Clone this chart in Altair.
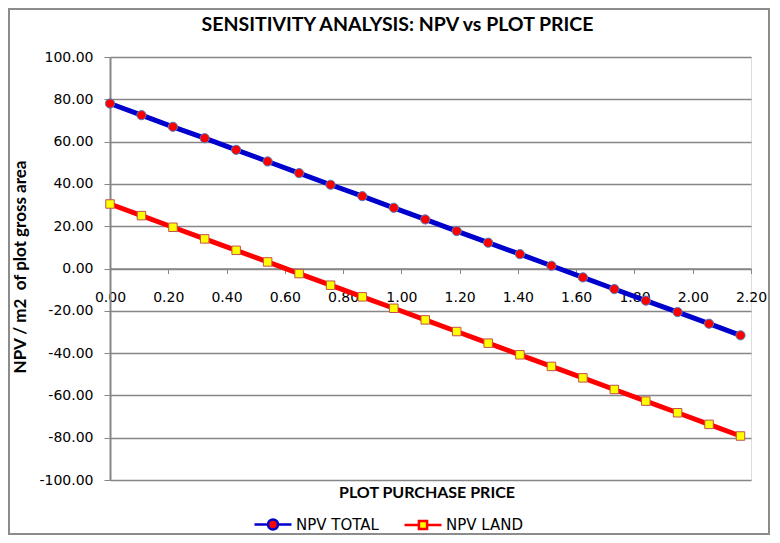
import altair as alt
import pandas as pd

series_names = ["NPV TOTAL", "NPV LAND"]
price = [0.000, 0.108, 0.216, 0.325, 0.433, 0.541, 0.649, 0.757, 0.866, 0.974, 1.082,
         1.190, 1.298, 1.407, 1.515, 1.623, 1.731, 1.839, 1.948, 2.056, 2.164]
npv_total = [78.0, 72.5, 67.0, 61.6, 56.1, 50.6, 45.1, 39.6, 34.2, 28.7, 23.2,
             17.7, 12.2, 6.8, 1.3, -4.2, -9.7, -15.2, -20.6, -26.1, -31.6]
npv_land = [30.5, 25.0, 19.5, 14.0, 8.6, 3.1, -2.4, -7.9, -13.4, -18.8, -24.3,
            -29.8, -35.3, -40.8, -46.3, -51.7, -57.2, -62.7, -68.2, -73.7, -79.2]
x_ticks = [0.0, 0.2, 0.4, 0.6, 0.8, 1.0, 1.2, 1.4, 1.6, 1.8, 2.0, 2.2]
y_ticks = [-100, -80, -60, -40, -20, 0, 20, 40, 60, 80, 100]

rows = []
for p, t, l in zip(price, npv_total, npv_land):
    rows.append({"price": p, "npv": t, "series": series_names[0]})
    rows.append({"price": p, "npv": l, "series": series_names[1]})
df = pd.DataFrame(rows)

W, H = 641, 423
ZERO_Y = H / 2
LABEL_FONT = "DejaVu Sans"
BOLD_FONT = "Lato"
GRID = "#868686"
HYPHEN_FMT = "(datum.value < 0 ? '-' : '') + format(abs(datum.value), '.2f')"

circle_path = "M-1,0H-0.27M0.27,0H1M-0.27,0A0.27,0.27,0,1,1,0.27,0A0.27,0.27,0,1,1,-0.27,0Z"
square_path = "M-1,0H-0.22M0.22,0H1M-0.22,-0.22H0.22V0.22H-0.22Z"

x_enc = alt.X(
    "price:Q",
    scale=alt.Scale(domain=[0, 2.2], nice=False, zero=False),
    axis=alt.Axis(
        values=x_ticks, labelExpr=HYPHEN_FMT, offset=-ZERO_Y, grid=False,
        labelFlush=False, labelOverlap=False,
        domainColor=GRID, domainWidth=1.5, tickColor=GRID, tickSize=5, tickWidth=1,
        labelPadding=17, labelFont=LABEL_FONT, labelFontSize=14, labelColor="black",
        title="PLOT PURCHASE PRICE", titleFont=BOLD_FONT, titleFontSize=16,
        titleFontWeight="bold", titleColor="black", titleY=H - ZERO_Y + 12,
        titleX=W / 2 - 4, titleAlign="center", titleBaseline="middle",
    ),
)
y_enc = alt.Y(
    "npv:Q",
    scale=alt.Scale(domain=[-100, 100], nice=False),
    axis=alt.Axis(
        values=y_ticks, labelExpr=HYPHEN_FMT, grid=True, gridColor=GRID, gridWidth=1.5,
        labelOverlap=False,
        domainColor=GRID, domainWidth=2, tickColor=GRID, tickSize=6, tickWidth=1,
        labelPadding=11, labelFont=LABEL_FONT, labelFontSize=14, labelColor="black",
        title="NPV / m2\u00a0 of plot gross area", titleFont=BOLD_FONT, titleFontSize=17,
        titleFontWeight="bold", titleColor="black", titleX=-90, titleY=ZERO_Y - 2,
        titleAngle=270, titleAlign="center", titleBaseline="middle",
    ),
)

border = alt.Chart(pd.DataFrame({"k": [0]})).mark_rect(
    fill="transparent", stroke="#8c8c8c", strokeWidth=2
).encode(x=alt.value(-101), x2=alt.value(W + 18), y=alt.value(-48), y2=alt.value(H + 54))

lines = alt.Chart(df).mark_line(strokeWidth=5).encode(
    x=x_enc,
    y=y_enc,
    color=alt.Color(
        "series:N",
        sort=series_names,
        scale=alt.Scale(domain=series_names, range=["#0000CC", "#FF0000"]),
        legend=alt.Legend(
            title=None, orient="none", legendX=143, legendY=447.5, direction="horizontal",
            padding=0, symbolSize=1369, symbolStrokeWidth=2.5,
            symbolType=alt.ExprRef(f"datum.value == 'NPV TOTAL' ? '{circle_path}' : '{square_path}'"),
            symbolFillColor=alt.ExprRef("datum.value == 'NPV TOTAL' ? '#FF0000' : '#FFFF00'"),
            labelFont=LABEL_FONT, labelFontSize=15, labelColor="black", labelOffset=3,
            columnPadding=20,
        ),
    ),
)

pts_total = alt.Chart(df).transform_filter(alt.datum.series == series_names[0]).mark_point(
    shape="circle", filled=True, fill="#FF0000", stroke="#4F81BD", strokeWidth=1,
    size=85, opacity=1
).encode(x="price:Q", y="npv:Q")

pts_land = alt.Chart(df).transform_filter(alt.datum.series == series_names[1]).mark_point(
    shape="square", filled=True, fill="#FFFF00", stroke="#C0504D", strokeWidth=1,
    size=72, opacity=1
).encode(x="price:Q", y="npv:Q")

chart = alt.layer(border, lines, pts_total, pts_land).properties(
    width=W,
    height=H,
    autosize=alt.AutoSizeParams(type="none"),
    padding={"left": 102, "top": 49, "right": 20, "bottom": 56},
    title=alt.TitleParams(
        "SENSITIVITY ANALYSIS: NPV vs PLOT PRICE", anchor="middle", frame="group",
        dx=-33, offset=-27, font=BOLD_FONT, fontSize=19.5, fontWeight="bold", color="black",
    ),
).configure_view(stroke="transparent", fill="#CCFFFF").configure(background="white")

chart.save("out.html", embed_options={"renderer": "svg", "actions": False})
